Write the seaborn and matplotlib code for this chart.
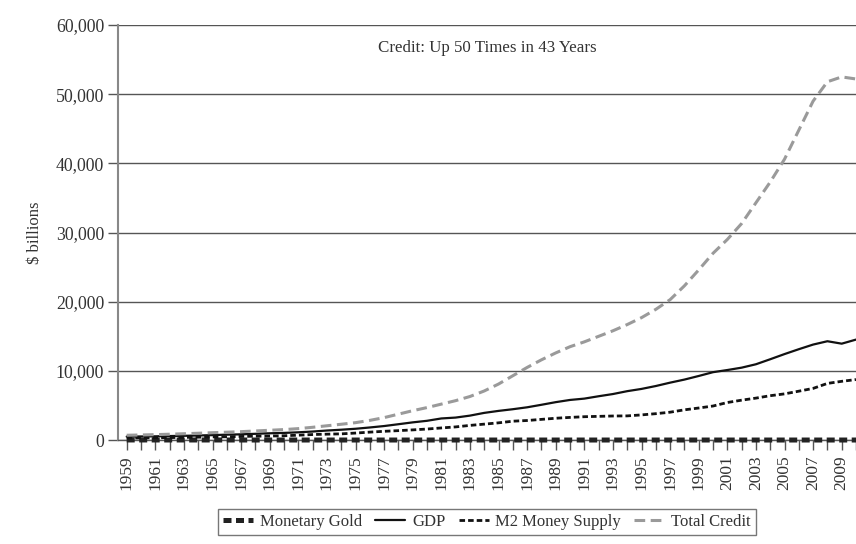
import pandas as pd
import seaborn as sns
import matplotlib.pyplot as plt
import matplotlib.ticker as ticker
import numpy as np


years = list(range(1959, 2011))

monetary_gold = [19.5, 17.8, 16.9, 16.0, 15.6, 15.5, 13.8, 13.2, 12.1, 10.9,
                 11.9, 11.1, 10.2, 10.5, 11.7, 11.7, 11.6, 11.6, 11.7, 11.7,
                 11.2, 11.2, 11.2, 11.1, 11.1, 11.1, 11.1, 11.1, 11.1, 11.1,
                 11.1, 11.1, 11.1, 11.1, 11.1, 11.1, 11.1, 11.0, 11.0, 11.0,
                 11.0, 11.0, 11.0, 11.0, 11.0, 11.0, 11.0, 11.0, 11.0, 11.0,
                 11.0, 11.0]

gdp = [506, 526, 544, 585, 617, 664, 719, 787, 833, 910,
       985, 1039, 1127, 1238, 1382, 1500, 1638, 1825, 2031, 2295,
       2563, 2789, 3128, 3255, 3537, 3933, 4220, 4463, 4740, 5104,
       5484, 5803, 5996, 6338, 6657, 7072, 7398, 7817, 8304, 8747,
       9268, 9817, 10128, 10470, 10961, 11686, 12434, 13138, 13808, 14291,
       13939, 14527]

m2_money_supply = [297, 312, 335, 363, 393, 424, 460, 480, 525, 567,
                   588, 627, 711, 802, 856, 902, 1017, 1153, 1271, 1367,
                   1475, 1600, 1756, 1906, 2124, 2307, 2494, 2732, 2831, 2995,
                   3159, 3280, 3380, 3432, 3483, 3499, 3642, 3819, 4033, 4375,
                   4638, 4925, 5433, 5772, 6067, 6418, 6681, 7071, 7471, 8192,
                   8496, 8750]

total_credit = [700, 740, 790, 850, 920, 990, 1070, 1140, 1220, 1320,
                1420, 1520, 1660, 1850, 2070, 2290, 2520, 2850, 3250, 3750,
                4250, 4700, 5200, 5700, 6300, 7100, 8100, 9300, 10500, 11600,
                12600, 13500, 14200, 15000, 15800, 16700, 17700, 18900, 20300, 22300,
                24600, 27000, 29000, 31300, 34300, 37300, 40600, 44800, 49000, 51800,
                52500, 52200]

series_names = ["Monetary Gold", "GDP", "M2 Money Supply", "Total Credit"]
title_text = "Credit: Up 50 Times in 43 Years"


df = pd.DataFrame({"year": years,
                   "Monetary Gold": monetary_gold,
                   "GDP": gdp,
                   "M2 Money Supply": m2_money_supply,
                   "Total Credit": total_credit})
df = df.melt(id_vars="year", var_name="series", value_name="value")

sns.set_style("white")
plt.rcParams['font.family'] = ['Liberation Serif', 'DejaVu Serif']

TEXT_COLOR = "#333333"
GRID_COLOR = "#555555"

styles = {
    "Monetary Gold":   {"color": "#222222", "lw": 3.6, "dashes": (1.6, 0.9)},
    "GDP":             {"color": "#111111", "lw": 1.6, "dashes": None},
    "M2 Money Supply": {"color": "#111111", "lw": 2.0, "dashes": (2.0, 1.1)},
    "Total Credit":    {"color": "#9a9a9a", "lw": 2.2, "dashes": (3.5, 1.8)},
}

fig = plt.figure(figsize=(8.56, 5.44), dpi=100)
ax = fig.add_axes([0.138, 0.191, 0.862, 0.763])

for name in series_names:
    this_df = df[df["series"] == name]
    st = styles[name]
    sns.lineplot(data=this_df, x="year", y="value", ax=ax, color=st["color"],
                 linewidth=st["lw"], label=name, zorder=3)
    line = ax.get_lines()[-1]
    if st["dashes"] is not None:
        line.set_dashes(st["dashes"])
    line.set_clip_on(False)
    line.set_dash_capstyle("butt")

ax.set_xlim(1958.4, 2010.0)
ax.set_ylim(0, 60000)

ax.yaxis.set_major_locator(ticker.MultipleLocator(10000))
ax.yaxis.set_major_formatter(ticker.FuncFormatter(lambda v, p: "{:,.0f}".format(v)))
ax.yaxis.grid(True, color=GRID_COLOR, linewidth=1.0)
ax.set_axisbelow(True)

ax.set_xticks(years, minor=True)
ax.set_xticks(years[::2])
ax.set_xticklabels([str(y) for y in years[::2]], rotation=90)

ax.tick_params(axis="x", which="both", direction="out", length=7, width=1,
               color=GRID_COLOR, labelsize=12.5, labelcolor=TEXT_COLOR, pad=4,
               bottom=True)
ax.tick_params(axis="y", direction="out", length=7, width=1, color=GRID_COLOR,
               labelsize=12.8, labelcolor=TEXT_COLOR, left=True, pad=3)

for s in ["top", "right"]:
    ax.spines[s].set_visible(False)
ax.spines["left"].set_color("#888888")
ax.spines["left"].set_linewidth(1.5)
ax.spines["bottom"].set_color(GRID_COLOR)
ax.spines["bottom"].set_linewidth(1.0)

ax.set_xlabel("")
ax.set_ylabel("$ billions", color=TEXT_COLOR, fontsize=12, labelpad=9)

ax.text(0.5, 0.945, title_text, transform=ax.transAxes, ha="center", va="center",
        fontsize=12.2, color=TEXT_COLOR)

leg = ax.legend(loc="center", bbox_to_anchor=(0.569, 0.040), bbox_transform=fig.transFigure,
                ncol=4, frameon=True, fancybox=False, fontsize=12, handlelength=1.8,
                columnspacing=0.8, handletextpad=0.4, borderpad=0.3)
leg.get_frame().set_edgecolor("#555555")
leg.get_frame().set_linewidth(1.0)
for t in leg.get_texts():
    t.set_color(TEXT_COLOR)

plt.savefig("out.png", dpi=100)
